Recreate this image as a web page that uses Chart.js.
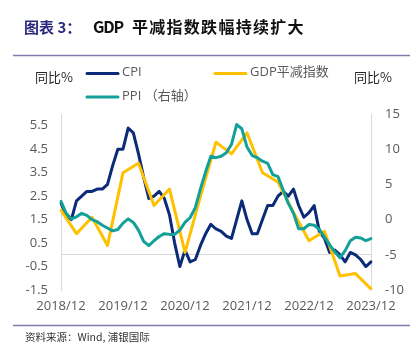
<!DOCTYPE html>
<html>
<head>
<meta charset="utf-8">
<script src="https://cdn.jsdelivr.net/npm/chart.js@4/dist/chart.umd.min.js"></script>
<style>
html,body{margin:0;padding:0;background:#fff;}
canvas{display:block;}
</style>
</head>
<body>
<canvas id="c" width="416" height="352"></canvas>
<script>
// ---- data (monthly, 2018/12 .. 2023/12) ----
const startYear = 2018, startMonth = 12, nMonths = 61;
const cpi = [2.2, 1.7, 1.5, 2.3, 2.5, 2.7, 2.7, 2.8, 2.8, 3.0, 3.8, 4.5, 4.5,
  5.4, 5.2, 4.3, 3.3, 2.4, 2.5, 2.7, 2.4, 1.7, 0.5, -0.5, 0.2,
  -0.3, -0.2, 0.4, 0.9, 1.3, 1.1, 1.0, 0.8, 0.7, 1.5, 2.3, 1.5,
  0.9, 0.9, 1.5, 2.1, 2.1, 2.5, 2.7, 2.5, 2.8, 2.1, 1.6, 1.8,
  2.1, 1.0, 0.7, 0.1, 0.2, 0.0, -0.3, 0.1, 0.0, -0.2, -0.5, -0.3];
const ppi = [2.6, 0.9, 0.1, 0.4, 0.9, 0.6, 0.0, -0.3, -0.8, -1.2, -1.6, -1.4, -0.5,
  0.1, -0.4, -1.5, -3.1, -3.7, -3.0, -2.4, -2.0, -2.1, -2.1, -1.5, -0.4,
  0.3, 1.7, 4.4, 6.8, 9.0, 8.8, 9.0, 9.5, 10.7, 13.5, 12.9, 10.3,
  9.1, 8.8, 8.3, 8.0, 6.4, 6.1, 4.2, 2.3, 0.9, -1.3, -1.3, -0.7,
  -0.8, -1.4, -2.5, -3.6, -4.6, -5.4, -4.4, -3.0, -2.5, -2.6, -3.0, -2.7];
// GDP deflator, quarterly (2018Q4 .. 2023Q4)
const gdpDeflatorQ = [1.9, 0.9, 1.6, 0.4, 3.5, 3.9, 2.1, 2.8, 0.1, 2.5, 4.8, 4.3, 5.2,
  3.5, 3.1, 1.8, 0.6, 1.0, -0.9, -0.8, -1.45];
const leftTicks = [-1.5, -0.5, 0.5, 1.5, 2.5, 3.5, 4.5, 5.5];
const rightTicks = [-10, -5, 0, 5, 10, 15];
const seriesNames = ['CPI', 'GDP平减指数', 'PPI （右轴）'];
const titlePrefix = '图表 3：';
const titleMain = 'GDP 平减指数跌幅持续扩大';
const sourceText = '资料来源：Wind, 浦银国际';
const axisUnit = '同比%';

// categories
const months = [];
for (let i = 0; i < nMonths; i++) {
  const m0 = startMonth - 1 + i;
  const y = startYear + Math.floor(m0 / 12);
  const m = (m0 % 12) + 1;
  months.push(y + '/' + (m < 10 ? '0' + m : m));
}
const gdpMonthly = months.map((_, i) => (i % 3 === 0 ? gdpDeflatorQ[i / 3] : null));

const C_CPI = '#0B2A78', C_GDP = '#FFC000', C_PPI = '#13A099';
const FONT = "'Open Sans', 'Noto Sans CJK SC', sans-serif";
const CJK = "'Noto Sans CJK SC', sans-serif";

const deco = {
  id: 'deco',
  beforeDraw(chart) {
    const ctx = chart.ctx;
    ctx.save();
    ctx.fillStyle = '#fff';
    ctx.fillRect(0, 0, chart.width, chart.height);
    ctx.restore();
  },
  afterDraw(chart) {
    const ctx = chart.ctx;
    ctx.save();
    // title
    ctx.textBaseline = 'middle';
    ctx.textAlign = 'left';
    ctx.font = "bold 15px " + CJK;
    ctx.fillStyle = '#2B2A7E';
    ctx.fillText(titlePrefix, 24, 27);
    ctx.fillStyle = '#111';
    ctx.font = "bold 16px " + CJK;
    let x = 93;
    for (const ch of titleMain) {
      ctx.fillText(ch, x, 27);
      x += (ch === ' ') ? 8 : (/[A-Z]/.test(ch) ? 10.3 : 17.3);
    }
    // rules
    ctx.strokeStyle = '#7E7CAA';
    ctx.lineWidth = 1.5;
    ctx.beginPath(); ctx.moveTo(13, 55.5); ctx.lineTo(410, 55.5); ctx.stroke();
    ctx.beginPath(); ctx.moveTo(13, 325.5); ctx.lineTo(410, 325.5); ctx.stroke();
    // source
    ctx.font = "10.5px " + CJK;
    ctx.fillStyle = '#333';
    ctx.fillText(sourceText, 25, 337);
    // axis units
    ctx.font = "13px " + CJK;
    ctx.fillStyle = '#262626';
    ctx.fillText(axisUnit, 35, 77);
    ctx.fillText(axisUnit, 354, 77);
    // legend
    const ds = chart.data.datasets;
    const items = [
      {d: ds[0], x: 86, y: 73.5},
      {d: ds[1], x: 214, y: 73.5},
      {d: ds[2], x: 86, y: 97}
    ];
    ctx.font = "13px " + FONT;
    ctx.fillStyle = '#595959';
    for (const it of items) {
      ctx.strokeStyle = it.d.borderColor;
      ctx.lineWidth = 3;
      ctx.lineCap = 'round';
      ctx.beginPath(); ctx.moveTo(it.x + 1, it.y); ctx.lineTo(it.x + 32, it.y); ctx.stroke();
      ctx.fillText(it.d.label, it.x + 36, it.y - 1);
    }
    ctx.restore();
  }
};

new Chart(document.getElementById('c'), {
  type: 'line',
  data: {
    labels: months,
    datasets: [
      {label: seriesNames[0], data: cpi, borderColor: C_CPI, backgroundColor: C_CPI, yAxisID: 'y', order: 2},
      {label: seriesNames[1], data: gdpMonthly, borderColor: C_GDP, backgroundColor: C_GDP, yAxisID: 'y', spanGaps: true, order: 1},
      {label: seriesNames[2], data: ppi, borderColor: C_PPI, backgroundColor: C_PPI, yAxisID: 'y1', order: 0}
    ]
  },
  options: {
    responsive: false,
    animation: false,
    devicePixelRatio: 1,
    layout: {padding: {top: 114, left: 0, right: 0, bottom: 0}},
    elements: {
      point: {radius: 0, hoverRadius: 0},
      line: {borderWidth: 3, tension: 0, borderJoinStyle: 'round', borderCapStyle: 'round'}
    },
    plugins: {legend: {display: false}, tooltip: {enabled: false}},
    scales: {
      x: {
        type: 'category',
        offset: false,
        grid: {display: false, drawTicks: false},
        border: {display: false},
        ticks: {
          autoSkip: false, maxRotation: 0, minRotation: 0, padding: 8,
          color: '#595959', font: {family: FONT, size: 13},
          callback: function (v, i) { const l = months[i]; return l.endsWith('/12') ? l : ''; }
        },
        afterFit(s) { s.height = 62; }
      },
      y: {
        position: 'left', min: -1.5, max: 6,
        grid: {display: false, drawTicks: false},
        border: {display: true, color: '#D9D9D9', width: 1},
        afterBuildTicks(s) { s.ticks = leftTicks.map(v => ({value: v})); },
        ticks: {padding: 13, color: '#595959', font: {family: FONT, size: 13},
          callback: v => Number(v).toFixed(1)},
        afterFit(s) { s.width = 61; }
      },
      y1: {
        position: 'right', min: -10, max: 15,
        grid: {display: true, drawTicks: false, drawOnChartArea: true,
          color: c => (c.tick && c.tick.value === -5 ? '#D9D9D9' : 'rgba(0,0,0,0)'), lineWidth: 1},
        border: {display: true, color: '#D9D9D9', width: 1},
        afterBuildTicks(s) { s.ticks = rightTicks.map(v => ({value: v})); },
        ticks: {padding: 14, color: '#595959', font: {family: FONT, size: 13},
          callback: v => String(v)},
        afterFit(s) { s.width = 45; }
      }
    }
  },
  plugins: [deco]
});
</script>
</body>
</html>
